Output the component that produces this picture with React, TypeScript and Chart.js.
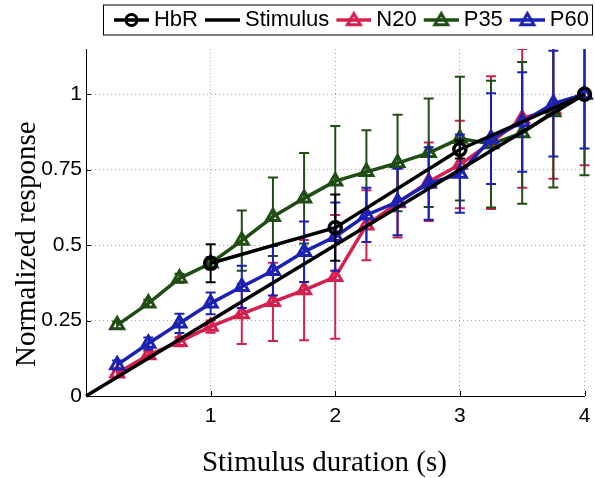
import React, { useEffect, useRef } from 'react';
import { Chart, registerables } from 'chart.js';

Chart.register(...registerables);

// ---- data ----
const durations = [0.25, 0.5, 0.75, 1, 1.25, 1.5, 1.75, 2, 2.25, 2.5, 2.75, 3, 3.25, 3.5, 3.75, 4];
const hbrDurations = [1, 2, 3, 4];
const hbrValues = [0.44, 0.558, 0.817, 1.0];
const hbrErrors = [0.063, 0.11, 0.03, 0];
const stimulusDurations = [0, 4];
const stimulusValues = [0, 1];
const n20Values = [0.075, 0.136, 0.18, 0.23, 0.272, 0.312, 0.351, 0.395, 0.566, 0.64, 0.71, 0.767, 0.84, 0.92, 0.95, 1.0];
const n20Errors = [0.012, 0.012, 0.015, 0.02, 0.1, 0.13, 0.166, 0.205, 0.116, 0.115, 0.13, 0.145, 0.22, 0.23, 0.23, 0.235];
const p35Values = [0.235, 0.307, 0.39, 0.44, 0.515, 0.594, 0.655, 0.712, 0.743, 0.772, 0.806, 0.853, 0.835, 0.872, 0.941, 1.0];
const p35Errors = [0.012, 0.012, 0.015, 0.02, 0.1, 0.13, 0.15, 0.183, 0.138, 0.16, 0.18, 0.205, 0.21, 0.235, 0.25, 0.268];
const p60Values = [0.103, 0.174, 0.241, 0.307, 0.362, 0.415, 0.478, 0.528, 0.6, 0.643, 0.704, 0.737, 0.853, 0.908, 0.969, 1.0];
const p60Errors = [0.015, 0.02, 0.032, 0.036, 0.07, 0.082, 0.1, 0.113, 0.09, 0.11, 0.12, 0.13, 0.15, 0.165, 0.175, 0.18];
const xTickValues = [1, 2, 3, 4];
const yTickValues = [0, 0.25, 0.5, 0.75, 1];
const seriesLabels = ['HbR', 'Stimulus', 'N20', 'P35', 'P60'];

const BLACK = '#000000';
const RED = '#d5204e';
const GREEN = '#1f4d14';
const BLUE = '#1b22b3';

const SANS = '"Liberation Sans", Arial, Helvetica, sans-serif';
const SERIF = '"Liberation Serif", "Times New Roman", serif';

function toPoints(xs: number[], ys: number[]) {
  return xs.map((x, i) => ({ x, y: ys[i] }));
}

function drawMarker(ctx: CanvasRenderingContext2D, kind: string, x: number, y: number, r: number) {
  ctx.beginPath();
  if (kind === 'circle') {
    ctx.arc(x, y, r, 0, Math.PI * 2);
  } else if (kind === 'triangle') {
    for (let k = 0; k < 3; k++) {
      const a = (k * 2 * Math.PI) / 3;
      const px = x + Math.sin(a) * r;
      const py = y - Math.cos(a) * r;
      if (k === 0) ctx.moveTo(px, py);
      else ctx.lineTo(px, py);
    }
    ctx.closePath();
  }
  ctx.stroke();
}

// legend icon: line sample with marker
const ICON_W = 42;
const ICON_H = 22;
const LINE_OFFSET = 7;
const LINE_LEN = 35;
function makeIcon(color: string, marker: string | null) {
  const c = document.createElement('canvas');
  c.width = ICON_W;
  c.height = ICON_H;
  const ctx = c.getContext('2d') as CanvasRenderingContext2D;
  ctx.strokeStyle = color;
  ctx.lineWidth = 3.5;
  ctx.beginPath();
  ctx.moveTo(LINE_OFFSET, ICON_H / 2);
  ctx.lineTo(LINE_OFFSET + LINE_LEN, ICON_H / 2);
  ctx.stroke();
  if (marker) {
    ctx.lineWidth = 3;
    drawMarker(ctx, marker, LINE_OFFSET + LINE_LEN / 2, ICON_H / 2 + (marker === 'triangle' ? 1 : 0), marker === 'circle' ? 5.5 : 7.5);
  }
  return c;
}

const errorBarsPlugin = {
  id: 'errorBars',
  beforeDatasetDraw(chart: any, args: any) {
    const ds = chart.data.datasets[args.index];
    if (!ds.errors) return;
    const { ctx, chartArea } = chart;
    const ys = chart.scales.y;
    ctx.save();
    ctx.beginPath();
    ctx.rect(chartArea.left - 20, chartArea.top, chartArea.right - chartArea.left + 40, chartArea.bottom - chartArea.top);
    ctx.clip();
    ctx.strokeStyle = ds.borderColor;
    ctx.lineWidth = 2;
    args.meta.data.forEach((pt: any, i: number) => {
      const e = ds.errors[i];
      if (!e) return;
      const v = ds.data[i].y;
      const top = ys.getPixelForValue(v + e);
      const bot = ys.getPixelForValue(v - e);
      const x = pt.x;
      ctx.beginPath();
      ctx.moveTo(x, top);
      ctx.lineTo(x, bot);
      ctx.moveTo(x - 5, top);
      ctx.lineTo(x + 5, top);
      ctx.moveTo(x - 5, bot);
      ctx.lineTo(x + 5, bot);
      ctx.stroke();
    });
    ctx.restore();
  },
};

const axisDecorPlugin = {
  id: 'axisDecor',
  beforeDraw(chart: any) {
    const { ctx } = chart;
    // legend frame
    const lg = chart.legend;
    if (lg && lg.legendHitBoxes && lg.legendHitBoxes.length) {
      const hb = lg.legendHitBoxes;
      const first = hb[0];
      const last = hb[hb.length - 1];
      const cy = first.top + first.height / 2;
      const left = first.left + 1 - 11;
      const right = last.left + last.width + 4;
      ctx.save();
      ctx.fillStyle = '#ffffff';
      ctx.strokeStyle = '#000000';
      ctx.lineWidth = 1;
      ctx.fillRect(left, cy - 15.5, right - left, 31);
      ctx.strokeRect(left + 0.5, cy - 15.5 + 0.5, right - left - 1, 30);
      ctx.restore();
    }
  },
  beforeDatasetsDraw(chart: any) {
    const { ctx, chartArea } = chart;
    const xs = chart.scales.x;
    const ys = chart.scales.y;
    ctx.save();
    ctx.strokeStyle = '#000000';
    ctx.lineWidth = 1;
    ctx.beginPath();
    xTickValues.forEach((v) => {
      const px = Math.round(xs.getPixelForValue(v)) + 0.5;
      ctx.moveTo(px, chartArea.bottom);
      ctx.lineTo(px, chartArea.bottom - 5);
    });
    yTickValues.forEach((v) => {
      const py = Math.round(ys.getPixelForValue(v)) + 0.5;
      ctx.moveTo(chartArea.left, py);
      ctx.lineTo(chartArea.left + 5, py);
    });
    ctx.stroke();
    ctx.restore();
  },
};

export default function App() {
  const ref = useRef<HTMLCanvasElement | null>(null);

  useEffect(() => {
    document.body.style.margin = '0';
    const canvas = ref.current;
    if (!canvas) return;

    const icons = [
      makeIcon(BLACK, 'circle'),
      makeIcon(BLACK, null),
      makeIcon(RED, 'triangle'),
      makeIcon(GREEN, 'triangle'),
      makeIcon(BLUE, 'triangle'),
    ];

    const triangleStyle = (color: string) => ({
      borderColor: color,
      backgroundColor: color,
      borderWidth: 3.5,
      pointStyle: 'triangle',
      pointRadius: 7.5,
      pointBorderWidth: 3,
      pointBackgroundColor: 'rgba(255,255,255,0)',
      pointBorderColor: color,
      clip: false as const,
    });

    const chart = new Chart(canvas, {
      type: 'line',
      data: {
        datasets: [
          {
            label: seriesLabels[0],
            data: toPoints(hbrDurations, hbrValues),
            errors: hbrErrors,
            borderColor: BLACK,
            backgroundColor: BLACK,
            borderWidth: 3.5,
            pointStyle: 'circle',
            pointRadius: 6,
            pointBorderWidth: 3.5,
            pointBackgroundColor: 'rgba(255,255,255,0)',
            pointBorderColor: BLACK,
            clip: false,
            order: 0,
          } as any,
          {
            label: seriesLabels[1],
            data: toPoints(stimulusDurations, stimulusValues),
            borderColor: BLACK,
            backgroundColor: BLACK,
            borderWidth: 3.5,
            pointRadius: 0,
            clip: false,
            order: 1,
          } as any,
          { label: seriesLabels[2], data: toPoints(durations, n20Values), errors: n20Errors, ...triangleStyle(RED), order: 4 } as any,
          { label: seriesLabels[3], data: toPoints(durations, p35Values), errors: p35Errors, ...triangleStyle(GREEN), order: 3 } as any,
          { label: seriesLabels[4], data: toPoints(durations, p60Values), errors: p60Errors, ...triangleStyle(BLUE), order: 2 } as any,
        ],
      },
      options: {
        animation: false,
        responsive: false,
        maintainAspectRatio: false,
        devicePixelRatio: 1,
        layout: { padding: { top: 3, left: 0, right: 0, bottom: 0 } },
        elements: { line: { tension: 0 } },
        plugins: {
          tooltip: { enabled: false },
          title: {
            display: true,
            text: ' ',
            weight: 500,
            font: { size: 1, lineHeight: 1 },
            padding: { top: 0, bottom: 7 },
          } as any,
          legend: {
            display: true,
            position: 'top',
            align: 'end',
            labels: {
              usePointStyle: true,
              pointStyleWidth: 30,
              boxHeight: 18,
              padding: 6,
              color: '#000000',
              font: { family: SANS, size: 22 },
              generateLabels: (ch: any) =>
                ch.data.datasets.map((ds: any, i: number) => ({
                  text: ds.label,
                  pointStyle: icons[i],
                  fillStyle: 'rgba(0,0,0,0)',
                  strokeStyle: 'rgba(0,0,0,0)',
                  lineWidth: 0,
                  hidden: false,
                  datasetIndex: i,
                  fontColor: '#000000',
                })),
            },
          } as any,
        },
        scales: {
          x: {
            type: 'linear',
            min: 0,
            max: 4,
            afterBuildTicks: (s: any) => {
              s.ticks = xTickValues.map((v) => ({ value: v }));
            },
            afterFit: (s: any) => {
              s.height = 82;
              s.paddingLeft = 0;
              s.paddingRight = 7;
            },
            ticks: {
              color: '#000000',
              font: { family: SANS, size: 21 },
              padding: 8,
              maxRotation: 0,
              autoSkip: false,
              callback: (v: any) => String(v),
            },
            grid: { color: '#a8a8a8', lineWidth: 1, drawTicks: false },
            border: { display: true, color: '#000000', width: 1, dash: [1, 3] },
            title: {
              display: true,
              text: 'Stimulus duration (s)   ',
              color: '#000000',
              font: { family: SERIF, size: 29, lineHeight: 1 },
              padding: { top: 0, bottom: 0.5 },
            },
          },
          y: {
            type: 'linear',
            min: 0,
            max: 1.15,
            afterBuildTicks: (s: any) => {
              s.ticks = yTickValues.map((v) => ({ value: v }));
            },
            afterFit: (s: any) => {
              s.width = 86;
              s.paddingTop = 0;
              s.paddingBottom = 0;
            },
            ticks: {
              color: '#000000',
              font: { family: SANS, size: 21 },
              padding: 4,
              autoSkip: false,
              callback: (v: any) => String(v),
            },
            grid: { color: '#a8a8a8', lineWidth: 1, drawTicks: false },
            border: { display: true, color: '#000000', width: 1, dash: [1, 3] },
            title: {
              display: true,
              text: 'Normalized response      ',
              color: '#000000',
              font: { family: SERIF, size: 29, lineHeight: 1.2 },
              padding: { top: 10, bottom: 0 },
            },
          },
        },
      } as any,
      plugins: [errorBarsPlugin, axisDecorPlugin],
    });

    return () => {
      chart.destroy();
    };
  }, []);

  return (
    <div style={{ width: 595, height: 478, position: 'relative', background: '#ffffff' }}>
      <canvas ref={ref} width={595} height={478} style={{ width: 595, height: 478, display: 'block' }} />
    </div>
  );
}
